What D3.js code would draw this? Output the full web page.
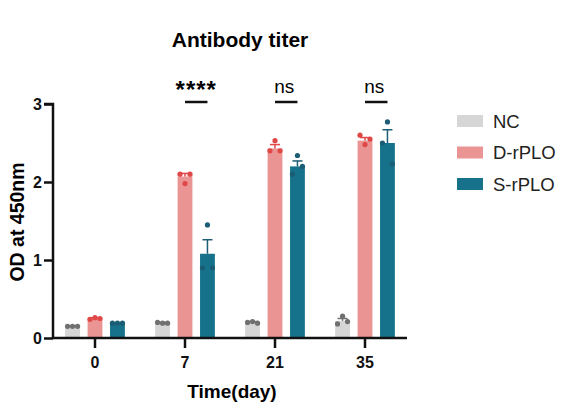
<!DOCTYPE html>
<html>
<head>
<meta charset="utf-8">
<script src="https://cdn.jsdelivr.net/npm/d3@7"></script>
<style>
  body { margin: 0; background: #fff; }
  svg { font-family: 'Liberation Sans', Arial, sans-serif; }
</style>
</head>
<body>
<svg width="567" height="409"></svg>
<script>
const DAYS = ['0', '7', '21', '35'];
const GROUPS = ['NC', 'D-rPLO', 'S-rPLO'];
const MEANS = {
  'NC': [0.15, 0.19, 0.2, 0.22],
  'D-rPLO': [0.25, 2.07, 2.43, 2.53],
  'S-rPLO': [0.19, 1.08, 2.2, 2.5],
};
const SEMS = {
  'NC': [0.005, 0.01, 0.01, 0.03],
  'D-rPLO': [0.01, 0.04, 0.05, 0.04],
  'S-rPLO': [0.005, 0.18, 0.07, 0.17],
};
const POINTS = {
  'NC': [[0.15, 0.15, 0.15], [0.2, 0.19, 0.19], [0.2, 0.21, 0.19], [0.18, 0.28, 0.21]],
  'D-rPLO': [[0.24, 0.26, 0.25], [2.1, 1.98, 2.1], [2.4, 2.53, 2.4], [2.6, 2.48, 2.55]],
  'S-rPLO': [[0.19, 0.19, 0.19], [0.9, 1.45, 0.9], [2.1, 2.34, 2.2], [2.5, 2.77, 2.23]],
};
const SIGNIF = ['', '****', 'ns', 'ns'];
const Y_TICKS = [0, 1, 2, 3];

const COLORS = { 'NC': '#d6d6d6', 'D-rPLO': '#eb9494', 'S-rPLO': '#16728a' };
const DOT_COLORS = { 'NC': '#707070', 'D-rPLO': '#e04848', 'S-rPLO': '#1a5d74' };

const SVG = d3.select('svg');

const Y = d3.scaleLinear().domain([0, 3]).range([338, 104]);
const X = d3.scaleBand().domain(DAYS).range([50, 410]).paddingInner(0).paddingOuter(0);
const XI = d3.scaleBand().domain(GROUPS).range([-37.5, 37.5]).padding(0.34);
const cx = (day) => X(day) + X.bandwidth() / 2;

// title
SVG.append('text')
  .attr('x', 240).attr('y', 47)
  .attr('text-anchor', 'middle')
  .style('font-size', '21px').style('font-weight', 'bold')
  .text('Antibody titer');

// bars
DAYS.forEach((day, di) => {
  GROUPS.forEach((g) => {
    const x0 = cx(day) + XI(g);
    const w = XI.bandwidth();
    SVG.append('rect')
      .attr('x', x0).attr('y', Y(MEANS[g][di]))
      .attr('width', w).attr('height', Y(0) - Y(MEANS[g][di]))
      .style('fill', COLORS[g]);
    // error bar
    const top = Y(MEANS[g][di] + SEMS[g][di]);
    const mid = x0 + w / 2;
    SVG.append('line')
      .attr('x1', mid).attr('x2', mid)
      .attr('y1', Y(MEANS[g][di])).attr('y2', top)
      .style('stroke', DOT_COLORS[g]).style('stroke-width', 1.5);
    SVG.append('line')
      .attr('x1', mid - 5).attr('x2', mid + 5)
      .attr('y1', top).attr('y2', top)
      .style('stroke', DOT_COLORS[g]).style('stroke-width', 1.5);
    // dots
    SVG.append('g')
      .selectAll('circle')
      .data(POINTS[g][di])
      .join('circle')
      .attr('cx', (d, i) => mid + (i - 1) * 5)
      .attr('cy', (d) => Y(d))
      .attr('r', 2.6)
      .style('fill', DOT_COLORS[g]);
  });
});

// axes
const Y_AXIS = d3.axisLeft(Y).tickValues(Y_TICKS).tickSize(9).tickPadding(2).tickFormat(d3.format('d'));
SVG.append('g').attr('transform', 'translate(53,0)').call(Y_AXIS)
  .call((g) => g.select('.domain').attr('d', `M-9,${Y(3)}H0V${Y(0)}`));

const X_AXIS = d3.axisBottom(X).tickSize(10).tickPadding(9).tickSizeOuter(0);
SVG.append('g').attr('transform', `translate(0,${Y(0)})`).call(X_AXIS)
  .call((g) => g.select('.domain').attr('d', `M53,0H407`));

SVG.selectAll('.tick text').style('font-size', '16px').style('font-weight', 'bold').style('fill', '#111');
SVG.selectAll('.domain, .tick line').style('stroke', '#111').style('stroke-width', 2.5);

// axis labels
SVG.append('text')
  .attr('x', 232).attr('y', 398)
  .attr('text-anchor', 'middle')
  .style('font-size', '19px').style('font-weight', 'bold')
  .text('Time(day)');
SVG.append('text')
  .attr('transform', `translate(24,${Y(1.5) + 1}) rotate(-90)`)
  .attr('text-anchor', 'middle')
  .style('font-size', '19.5px').style('font-weight', 'bold')
  .text('OD at 450nm');

// significance
DAYS.forEach((day, di) => {
  if (!SIGNIF[di]) return;
  const x1 = cx(day) + XI('D-rPLO') + XI.bandwidth() / 2;
  const x2 = cx(day) + XI('S-rPLO') + XI.bandwidth() / 2;
  SVG.append('line')
    .attr('x1', x1).attr('x2', x2)
    .attr('y1', 102).attr('y2', 102)
    .style('stroke', '#111').style('stroke-width', 2.5);
  const star = SIGNIF[di] === '****';
  SVG.append('text')
    .attr('x', (x1 + x2) / 2 - (star ? 0 : 2))
    .attr('y', star ? 98 : 93)
    .attr('text-anchor', 'middle')
    .style('font-size', star ? '24px' : '19px')
    .style('font-weight', star ? 'bold' : 'normal')
    .style('letter-spacing', star ? '1px' : '0')
    .text(SIGNIF[di]);
});

// legend
GROUPS.forEach((g, i) => {
  const y = 121 + i * 31.5;
  SVG.append('rect')
    .attr('x', 457).attr('y', y - 6)
    .attr('width', 26).attr('height', 12)
    .style('fill', COLORS[g]);
  SVG.append('text')
    .attr('x', 493).attr('y', y + 6.5)
    .style('font-size', '18.5px')
    .style('fill', '#222')
    .text(g);
});
</script>
</body>
</html>
